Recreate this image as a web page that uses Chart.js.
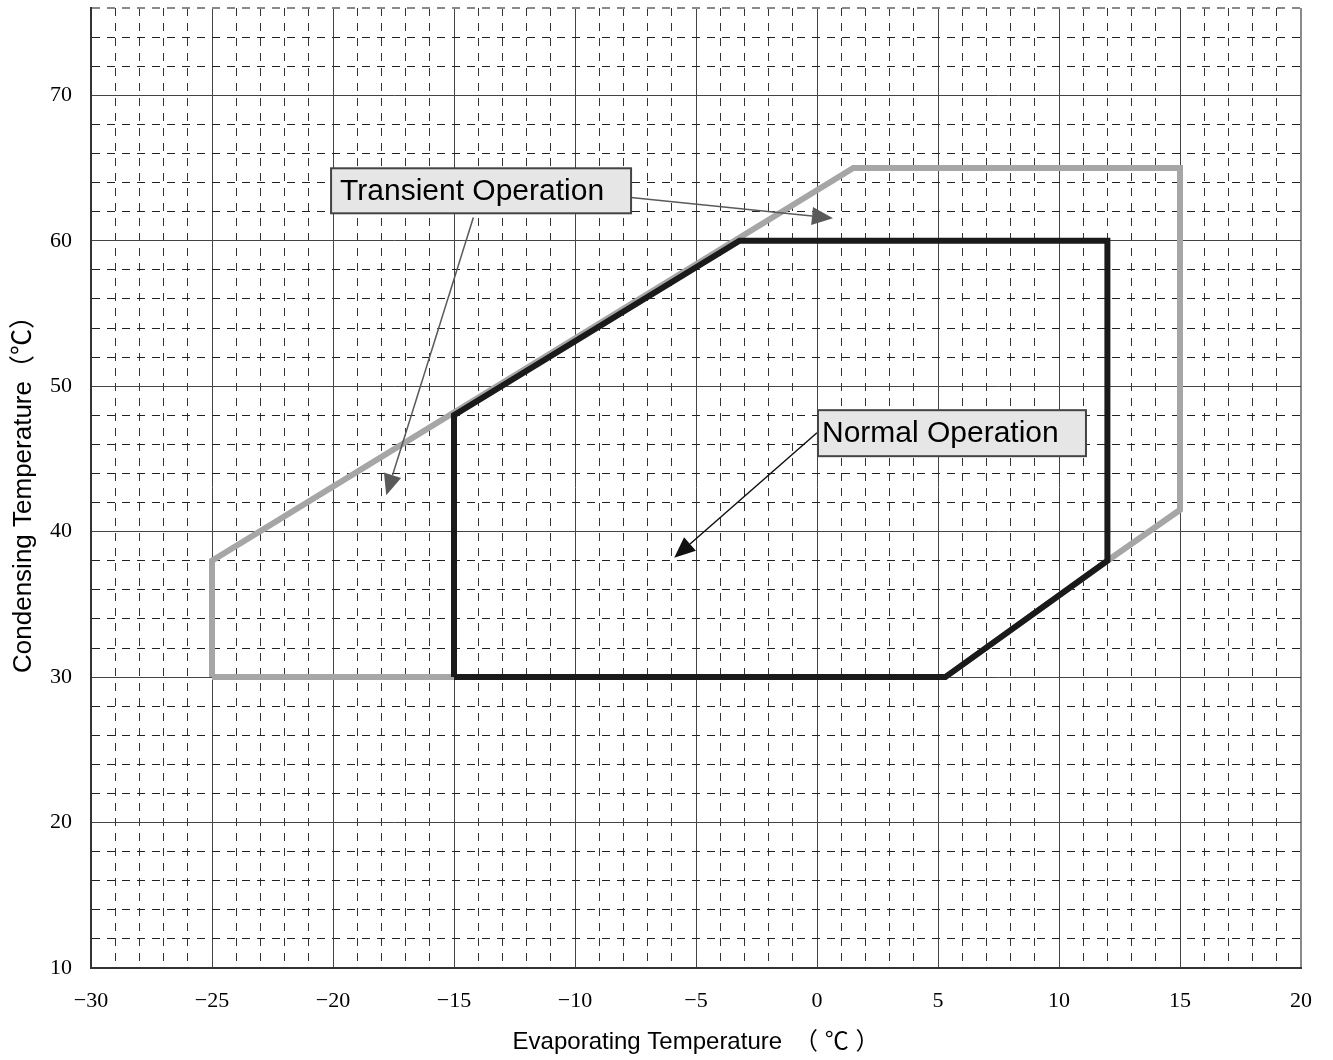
<!DOCTYPE html>
<html>
<head>
<meta charset="utf-8">
<script src="https://cdn.jsdelivr.net/npm/chart.js@4.4.1/dist/chart.umd.min.js"></script>
<style>
    html, body { margin: 0; padding: 0; background: #fff; }
    #wrap { width: 1333px; height: 1060px; }
</style>
</head>
<body>
<div id="wrap"><canvas id="envelope" width="1333" height="1060"></canvas></div>
<script>
// operating envelope (evaporating, condensing) in degC
const transientX = [-25, -25, 1.5, 15, 15, 12, 5.3, -25];
const transientY = [30, 38, 65, 65, 41.5, 38, 30, 30];
const normalX = [-15, -15, -3.2, 12, 12, 5.3, -15];
const normalY = [30, 48, 60, 60, 38, 30, 30];

const xTickLabels = [-30, -25, -20, -15, -10, -5, 0, 5, 10, 15, 20];
const yTickLabels = [10, 20, 30, 40, 50, 60, 70];

// callouts: box corner (data units) + arrows from/to (data units)
const callouts = [
    {text: 'Transient Operation', x: -20.08, y: 64.98, w: 300, h: 45, pad: 9, arrows: [
        {from: [-8.4, 63.1], to: [0.66, 61.55]},
        {from: [-14.2, 61.6], to: [-17.8, 42.5]}
    ], color: '#5a5a5a'},
    {text: 'Normal Operation', x: 0.04, y: 48.35, w: 268, h: 46, pad: 4, arrows: [
        {from: [0.0, 46.8], to: [-5.9, 38.2]}
    ], color: '#111'}
];

const toPoints = (xs, ys) => xs.map((x, i) => ({x: x, y: ys[i]}));
const minus = v => String(v).replace('-', '\u2212');

const calloutPlugin = {
    id: 'callouts',
    afterDatasetsDraw(chart) {
        const ctx = chart.ctx, sx = chart.scales.x, sy = chart.scales.y;
        ctx.save();
        callouts.forEach(c => {
            c.arrows.forEach(a => {
                const x1 = sx.getPixelForValue(a.from[0]), y1 = sy.getPixelForValue(a.from[1]);
                const x2 = sx.getPixelForValue(a.to[0]), y2 = sy.getPixelForValue(a.to[1]);
                const ang = Math.atan2(y2 - y1, x2 - x1);
                const len = 21, half = 9;
                ctx.strokeStyle = c.color;
                ctx.fillStyle = c.color;
                ctx.lineWidth = 1.5;
                ctx.beginPath();
                ctx.moveTo(x1, y1);
                ctx.lineTo(x2 - Math.cos(ang) * len, y2 - Math.sin(ang) * len);
                ctx.stroke();
                ctx.beginPath();
                ctx.moveTo(x2, y2);
                ctx.lineTo(x2 - Math.cos(ang) * len - Math.sin(ang) * half, y2 - Math.sin(ang) * len + Math.cos(ang) * half);
                ctx.lineTo(x2 - Math.cos(ang) * len + Math.sin(ang) * half, y2 - Math.sin(ang) * len - Math.cos(ang) * half);
                ctx.closePath();
                ctx.fill();
            });
            ctx.font = '30px "Liberation Sans", Arial, sans-serif';
            const bx = sx.getPixelForValue(c.x), by = sy.getPixelForValue(c.y);
            ctx.fillStyle = '#e6e6e6';
            ctx.fillRect(bx, by, c.w, c.h);
            ctx.strokeStyle = '#444';
            ctx.lineWidth = 2;
            ctx.strokeRect(bx, by, c.w, c.h);
            ctx.fillStyle = '#000';
            ctx.textBaseline = 'middle';
            ctx.fillText(c.text, bx + c.pad, by + c.h / 2 + 1);
        });
        ctx.restore();
    }
};

const gridColor = (ctx, step, last, minorColor) => {
    if (!ctx.tick) return '#333';
    const v = ctx.tick.value;
    if (Math.abs(v - last) < 1e-6) return '#8a8a8a';
    return v % step === 0 ? '#444' : minorColor;
};
const gridDash = (ctx, step) => {
    if (!ctx.tick) return [];
    return ctx.tick.value % step === 0 ? [] : [8, 7];
};

new Chart(document.getElementById('envelope'), {
    type: 'scatter',
    data: {
        datasets: [{
            label: 'Normal Operation',
            data: toPoints(normalX, normalY),
            showLine: true,
            borderColor: '#1a1a1a',
            borderWidth: 6,
            borderJoinStyle: 'miter',
            pointRadius: 0,
            order: 0
        }, {
            label: 'Transient Operation',
            data: toPoints(transientX, transientY),
            showLine: true,
            borderColor: '#a6a6a6',
            borderWidth: 6,
            borderJoinStyle: 'miter',
            pointRadius: 0,
            order: 1
        }]
    },
    options: {
        responsive: false,
        animation: false,
        layout: {padding: {top: 8, right: 32, left: 0, bottom: 0}},
        plugins: {
            legend: {display: false},
            tooltip: {enabled: false}
        },
        scales: {
            x: {
                type: 'linear',
                min: -30,
                max: 20,
                afterFit: s => { s.height = 92; s.paddingLeft = 0; s.paddingRight = 0; },
                ticks: {
                    stepSize: 1,
                    autoSkip: false,
                    maxRotation: 0,
                    padding: 20,
                    color: '#000',
                    font: {family: '"Liberation Serif", "DejaVu Serif", serif', size: 22},
                    callback: v => xTickLabels.includes(v) ? minus(v) : ''
                },
                grid: {
                    drawTicks: false,
                    color: c => gridColor(c, 5, 20, '#333'),
                    lineWidth: c => (c.tick && c.tick.value === 20) ? 2 : 1
                },
                border: {
                    color: '#333',
                    width: 2,
                    dash: c => gridDash(c, 5)
                },
                title: {
                    display: true,
                    text: 'Evaporating Temperature\u3000（ ℃ ）',
                    color: '#000',
                    font: {family: '"Liberation Sans", "Noto Sans CJK SC", sans-serif', size: 24},
                    padding: {top: 4, bottom: 3}
                }
            },
            y: {
                type: 'linear',
                min: 10,
                max: 76,
                afterFit: s => { s.width = 91; s.paddingTop = 0; s.paddingBottom = 0; },
                ticks: {
                    stepSize: 2,
                    autoSkip: false,
                    padding: 19,
                    color: '#000',
                    font: {family: '"Liberation Serif", "DejaVu Serif", serif', size: 22},
                    callback: v => yTickLabels.includes(v) ? minus(v) : ''
                },
                grid: {
                    drawTicks: false,
                    color: c => gridColor(c, 10, 76, '#222'),
                    lineWidth: c => (c.tick && c.tick.value === 76) ? 2 : 1
                },
                border: {
                    color: '#333',
                    width: 2,
                    dash: c => gridDash(c, 10)
                },
                title: {
                    display: true,
                    text: 'Condensing Temperature（℃）',
                    color: '#000',
                    font: {family: '"Liberation Sans", "Noto Sans CJK SC", sans-serif', size: 26},
                    padding: {top: 8, bottom: 4}
                }
            }
        }
    },
    plugins: [calloutPlugin]
});
</script>
</body>
</html>
